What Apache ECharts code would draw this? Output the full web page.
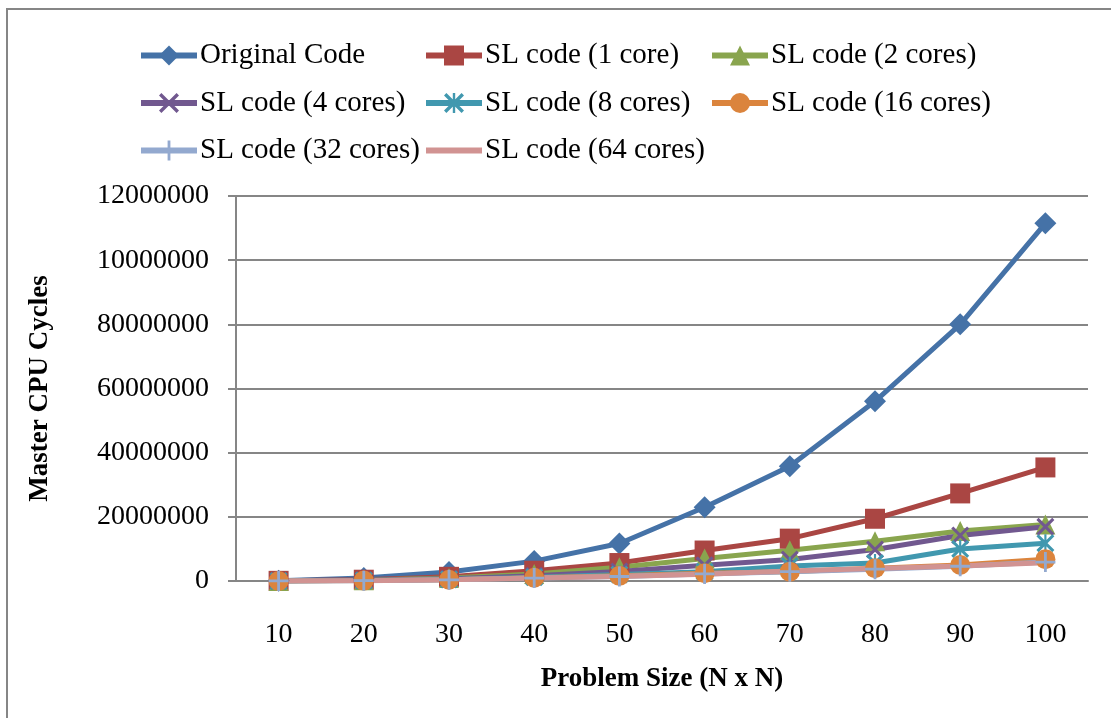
<!DOCTYPE html>
<html>
<head>
<meta charset="utf-8">
<script src="https://cdn.jsdelivr.net/npm/echarts@6/dist/echarts.min.js"></script>
<style>
  html, body { margin: 0; padding: 0; background: #fff; }
  #chart { width: 1111px; height: 718px; }
</style>
</head>
<body>
<div id="chart"></div>
<script>
// problem sizes on the x axis
var problemSizes = ['10', '20', '30', '40', '50', '60', '70', '80', '90', '100'];

// master CPU cycles per series
var originalCode = [100000, 900000, 2800000, 6200000, 11700000, 23000000, 35800000, 56000000, 80000000, 111500000];
var slCore1 = [50000, 400000, 1300000, 3200000, 5600000, 9500000, 13200000, 19400000, 27300000, 35400000];
var slCores2 = [30000, 250000, 900000, 2200000, 4300000, 7000000, 9600000, 12400000, 15600000, 17600000];
var slCores4 = [30000, 200000, 700000, 1600000, 3000000, 4900000, 6700000, 9800000, 14200000, 16900000];
var slCores8 = [20000, 150000, 500000, 1200000, 2000000, 2900000, 4700000, 5600000, 10000000, 11800000];
var slCores16 = [20000, 120000, 400000, 1000000, 1600000, 2400000, 2900000, 4000000, 5000000, 6800000];
var slCores32 = [20000, 110000, 380000, 900000, 1400000, 2200000, 2900000, 3700000, 4600000, 5900000];
var slCores64 = [20000, 110000, 380000, 900000, 1400000, 2100000, 3100000, 3900000, 4700000, 5700000];

// y tick labels as printed (top two are cut short in the original)
var yTickLabels = ['0', '20000000', '40000000', '60000000', '80000000', '10000000', '12000000'];

var serif = 'Liberation Serif';
var symX = 'path://M0,1.2L1.2,0L10,8.8L8.8,10Z M8.8,0L10,1.2L1.2,10L0,8.8Z';
var symStar = 'path://M0,1.2L1.2,0L10,8.8L8.8,10Z M8.8,0L10,1.2L1.2,10L0,8.8Z M4.4,0H5.6V10H4.4Z';
var symPlus = 'path://M4.3,0H5.7V10H4.3Z M0,4.3H10V5.7H0Z';

function mkSeries(name, data, color, symbol, size) {
    return {
        name: name,
        type: 'line',
        data: data,
        symbol: symbol,
        symbolSize: size,
        showSymbol: symbol !== 'none',
        lineStyle: { color: color, width: 5 },
        itemStyle: { color: color },
        emphasis: { disabled: true }
    };
}

var chart = echarts.init(document.getElementById('chart'));

var legendBase = {
    orient: 'vertical',
    top: 36,
    itemWidth: 56,
    itemHeight: 25,
    itemGap: 18.5,
    lineStyle: { width: 6 },
    textStyle: { fontFamily: serif, fontSize: 29, color: '#000', lineHeight: 28, padding: [0, 0, 0, -2] }
};

var option = {
    animation: false,
    backgroundColor: '#fff',
    graphic: [{
        type: 'rect',
        shape: { x: 7, y: 9, width: 1300, height: 900 },
        style: { fill: 'none', stroke: '#868686', lineWidth: 2 }
    }],
    legend: [
        Object.assign({ left: 133, data: ['Original Code', 'SL code (4 cores)', 'SL code (32 cores)'] }, legendBase),
        Object.assign({ left: 418, data: ['SL code (1 core)', 'SL code (8 cores)',
            { name: 'SL code (64 cores)', itemStyle: { opacity: 0 } }] }, legendBase),
        Object.assign({ left: 704, data: ['SL code (2 cores)', 'SL code (16 cores)'] }, legendBase)
    ],
    grid: { left: 236, right: 23, top: 196, bottom: 137 },
    xAxis: {
        type: 'category',
        data: problemSizes,
        boundaryGap: true,
        name: 'Problem Size (N x N)',
        nameLocation: 'middle',
        nameGap: 85,
        nameTextStyle: { fontFamily: serif, fontSize: 27, fontWeight: 'bold', color: '#000' },
        axisLine: { lineStyle: { color: '#868686', width: 2 } },
        axisTick: { show: false },
        axisLabel: { fontFamily: serif, fontSize: 28, color: '#000', margin: 40 }
    },
    yAxis: {
        type: 'value',
        min: 0,
        max: 120000000,
        interval: 20000000,
        name: 'Master CPU Cycles',
        nameLocation: 'middle',
        nameGap: 182,
        nameRotate: 90,
        nameTextStyle: { fontFamily: serif, fontSize: 27, fontWeight: 'bold', color: '#000' },
        axisLine: { show: true, lineStyle: { color: '#868686', width: 2 } },
        axisTick: { show: true, length: 8, lineStyle: { color: '#868686', width: 2 } },
        splitLine: { lineStyle: { color: '#868686', width: 2 } },
        axisLabel: {
            fontFamily: serif, fontSize: 28, color: '#000', margin: 27,
            formatter: function (v) {
                return yTickLabels[Math.round(v / 20000000)];
            }
        }
    },
    series: [
        mkSeries('Original Code', originalCode, '#4572A7', 'diamond', 22),
        mkSeries('SL code (1 core)', slCore1, '#AA4643', 'rect', 20),
        mkSeries('SL code (2 cores)', slCores2, '#89A54E', 'triangle', 20),
        mkSeries('SL code (4 cores)', slCores4, '#71588F', symX, 18),
        mkSeries('SL code (8 cores)', slCores8, '#4198AF', symStar, 18),
        mkSeries('SL code (16 cores)', slCores16, '#DB843D', 'circle', 20),
        mkSeries('SL code (32 cores)', slCores32, '#93A9CF', symPlus, 20),
        mkSeries('SL code (64 cores)', slCores64, '#D19392', 'none', 0)
    ]
};

chart.setOption(option);
</script>
</body>
</html>
